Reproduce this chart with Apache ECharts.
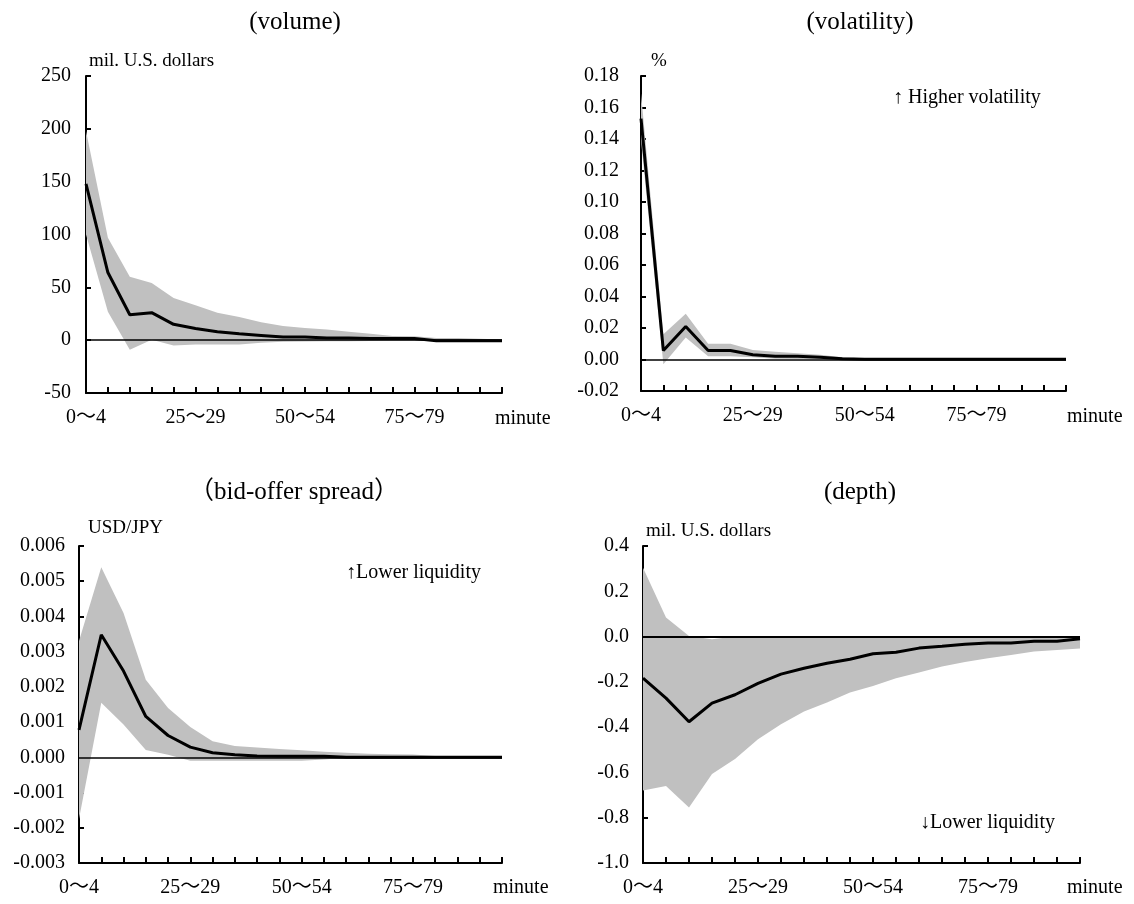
<!DOCTYPE html>
<html>
<head>
<meta charset="utf-8">
<script src="https://cdn.jsdelivr.net/npm/echarts@6/dist/echarts.min.js"></script>
<style>
  html, body { margin: 0; padding: 0; background: #fff; }
  #chart { width: 1134px; height: 904px; }
</style>
</head>
<body>
<div id="chart"></div>
<script>
const categories = ['0〜4', '5〜9', '10〜14', '15〜19', '20〜24', '25〜29', '30〜34', '35〜39', '40〜44', '45〜49',
  '50〜54', '55〜59', '60〜64', '65〜69', '70〜74', '75〜79', '80〜84', '85〜89', '90〜94', '95〜99'];

// volume (mil. U.S. dollars)
const volumeMid = [148, 64, 24, 26, 15, 11, 8, 6, 4.5, 3, 3, 2, 2, 1.5, 1.5, 1.5, -0.5, -0.5, -0.5, -0.5];
const volumeUp = [198, 97, 60, 54, 40, 33, 26, 22, 17, 13.5, 11.5, 10, 8, 6, 4, 3.8, 2, 2, 1.3, 0.6];
const volumeLo = [100, 27, -9, 0.5, -5, -4, -4, -4, -2.5, -1.5, -1.3, -1, -1, -0.8, -0.6, -0.5, -1, -1, -1, -1];

// volatility (%)
const volatMid = [0.153, 0.0057, 0.021, 0.0057, 0.0057, 0.003, 0.002, 0.002, 0.0015, 0.0004, 0.0002, 0.0002, 0.0002, 0.0002, 0.0002, 0.0002, 0.0002, 0.0002, 0.0002, 0.0002];
const volatUp = [0.169, 0.016, 0.029, 0.010, 0.010, 0.006, 0.005, 0.004, 0.003, 0.0015, 0.0008, 0.0008, 0.0007, 0.0007, 0.0006, 0.0006, 0.0006, 0.0005, 0.0005, 0.0005];
const volatLo = [0.139, -0.003, 0.014, 0.002, 0.002, 0.0015, 0.0004, 0.0003, 0.0003, 0.0001, -0.0002, -0.0002, -0.0002, -0.0002, -0.0002, -0.0002, -0.0002, -0.0002, -0.0002, -0.0002];

// bid-offer spread (USD/JPY)
const spreadMid = [0.00078, 0.00348, 0.00245, 0.00116, 0.00062, 0.00029, 0.00013, 0.00007, 0.00004, 0.00003, 0.00003, 0.00003, 0, 0, 0, 0, 0, 0, 0, 0];
const spreadUp = [0.0033, 0.0054, 0.0041, 0.0022, 0.0014, 0.00086, 0.00046, 0.00032, 0.00028, 0.00024, 0.0002, 0.00016, 0.00013, 0.0001, 0.00009, 0.00008, 0.00004, 0.00002, 0.00001, 0.00001];
const spreadLo = [-0.00175, 0.00155, 0.00093, 0.00021, 0.00007, -0.0001, -0.0001, -0.0001, -0.0001, -0.0001, -0.0001, -0.00006, -0.00001, -0.00002, -0.00002, -0.00002, -0.00002, -0.00001, -0.00001, -0.00001];

// depth (mil. U.S. dollars)
const depthMid = [-0.184, -0.272, -0.376, -0.294, -0.257, -0.207, -0.166, -0.14, -0.118, -0.1, -0.076, -0.069, -0.051, -0.043, -0.034, -0.028, -0.028, -0.021, -0.021, -0.01];
const depthUp = [0.304, 0.084, 0.003, -0.012, 0, 0, 0, 0, 0, 0, 0, 0, 0, 0, 0, 0, 0, 0, 0, 0];
const depthLo = [-0.68, -0.66, -0.755, -0.607, -0.541, -0.453, -0.387, -0.331, -0.291, -0.247, -0.218, -0.184, -0.159, -0.132, -0.112, -0.096, -0.081, -0.066, -0.059, -0.053];

const FONT = '"Liberation Serif", "Times New Roman", "Noto Sans CJK JP", serif';
const BAND = '#c0c0c0';

const panels = [
  { title: '(volume)', tx: 290, ty: 5, grid: { left: 86, top: 76, width: 416, height: 317 },
    min: -50, max: 250, interval: 50, digits: 0, labelMargin: 15, zeroWidth: 1.5,
    mid: volumeMid, up: volumeUp, lo: volumeLo },
  { title: '(volatility)', tx: 855, ty: 5, grid: { left: 641, top: 76, width: 425, height: 315 },
    min: -0.02, max: 0.18, interval: 0.02, digits: 2, labelMargin: 22, zeroWidth: 1.5,
    mid: volatMid, up: volatUp, lo: volatLo },
  { title: '（bid-offer spread）', tx: 289, ty: 475, grid: { left: 79, top: 546, width: 423, height: 317 },
    min: -0.003, max: 0.006, interval: 0.001, digits: 3, labelMargin: 14, zeroWidth: 1.5,
    mid: spreadMid, up: spreadUp, lo: spreadLo },
  { title: '(depth)', tx: 855, ty: 475, grid: { left: 643, top: 546, width: 437, height: 317 },
    min: -1.0, max: 0.4, interval: 0.2, digits: 1, labelMargin: 14, zeroWidth: 2,
    mid: depthMid, up: depthUp, lo: depthLo }
];

const option = {
  animation: false,
  backgroundColor: '#fff',
  title: panels.map(p => ({
    text: p.title, left: p.tx, top: p.ty, textAlign: 'center',
    textStyle: { fontFamily: FONT, fontSize: 25, fontWeight: 'normal', color: '#000' }
  })),
  grid: panels.map(p => p.grid),
  xAxis: panels.map((p, i) => ({
    type: 'category', gridIndex: i, data: categories, boundaryGap: false,
    axisLine: { onZero: false, lineStyle: { color: '#000', width: 2 } },
    axisTick: { inside: true, length: 6, interval: 0, lineStyle: { color: '#000', width: 2 } },
    axisLabel: { interval: 4, margin: 15, color: '#000', fontFamily: FONT, fontSize: 20 },
    splitLine: { show: false }
  })),
  yAxis: panels.map((p, i) => ({
    type: 'value', gridIndex: i, min: p.min, max: p.max, interval: p.interval,
    axisLine: { show: true, lineStyle: { color: '#000', width: 2 } },
    axisTick: { show: true, inside: true, length: 5, lineStyle: { color: '#000', width: 2 } },
    axisLabel: { margin: p.labelMargin, color: '#000', fontFamily: FONT, fontSize: 20,
      formatter: v => v.toFixed(p.digits) },
    splitLine: { show: false }
  })),
  series: panels.flatMap((p, i) => [
    { type: 'line', xAxisIndex: i, yAxisIndex: i, stack: 'band' + i, stackStrategy: 'all',
      data: p.lo, symbol: 'none', lineStyle: { opacity: 0 }, silent: true, z: 1 },
    { type: 'line', xAxisIndex: i, yAxisIndex: i, stack: 'band' + i, stackStrategy: 'all',
      data: p.up.map((u, k) => u - p.lo[k]), symbol: 'none', lineStyle: { opacity: 0 },
      areaStyle: { color: BAND, opacity: 1 }, silent: true, z: 1 },
    { type: 'line', xAxisIndex: i, yAxisIndex: i, data: p.mid, symbol: 'none',
      lineStyle: { color: '#000', width: 3 }, z: 3,
      markLine: { silent: true, symbol: 'none', label: { show: false },
        lineStyle: { color: '#000', width: p.zeroWidth, type: 'solid' }, data: [{ yAxis: 0 }] } }
  ]),
  graphic: [
    { text: 'mil. U.S. dollars', x: 89, y: 61 },
    { text: '%', x: 651, y: 61 },
    { text: 'USD/JPY', x: 88, y: 528 },
    { text: 'mil. U.S. dollars', x: 646, y: 531 },
    { text: 'minute', x: 495, y: 419, size: 20 },
    { text: 'minute', x: 1067, y: 417, size: 20 },
    { text: 'minute', x: 493, y: 888, size: 20 },
    { text: 'minute', x: 1067, y: 888, size: 20 },
    { text: '↑ Higher volatility', x: 893, y: 98, size: 20 },
    { text: '↑Lower liquidity', x: 346, y: 573, size: 20 },
    { text: '↓Lower liquidity', x: 920, y: 823, size: 20 }
  ].map(t => ({
    type: 'text', x: t.x, y: t.y, silent: true,
    style: { text: t.text, fill: '#000', fontFamily: FONT, fontSize: t.size || 19,
      textAlign: 'left', textVerticalAlign: 'middle' }
  }))
};

const chart = echarts.init(document.getElementById('chart'));
chart.setOption(option);
</script>
</body>
</html>
